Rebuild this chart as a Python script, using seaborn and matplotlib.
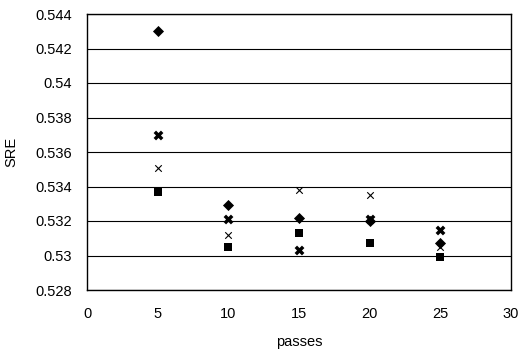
import matplotlib
matplotlib.use("Agg")
import matplotlib.pyplot as plt
import seaborn as sns
import pandas as pd

passes = [5, 10, 15, 20, 25]
series_diamond = [0.5430, 0.5329, 0.5322, 0.5320, 0.5307]
series_square = [0.5337, 0.5305, 0.5313, 0.5307, 0.5299]
series_bowtie = [0.5370, 0.5321, 0.5303, 0.5321, 0.5315]
series_cross = [0.5351, 0.5312, 0.5338, 0.5335, 0.5305]
x_ticks = [0, 5, 10, 15, 20, 25, 30]
y_ticks = [0.528, 0.53, 0.532, 0.534, 0.536, 0.538, 0.54, 0.542, 0.544]
y_tick_labels = ["0.528", "0.53", "0.532", "0.534", "0.536", "0.538", "0.54", "0.542", "0.544"]

names = ["A", "B", "C", "D"]
rows = []
for name, vals in zip(names, [series_diamond, series_square, series_bowtie, series_cross]):
    for p, v in zip(passes, vals):
        rows.append({"passes": p, "SRE": v, "series": name})
df = pd.DataFrame(rows)

sns.set_style("white")
plt.rcParams["font.family"] = ["Liberation Sans", "DejaVu Sans"]
plt.rcParams["text.color"] = "black"
plt.rcParams["axes.labelcolor"] = "black"
plt.rcParams["xtick.color"] = "black"
plt.rcParams["ytick.color"] = "black"

fig = plt.figure(figsize=(5.21, 3.55), dpi=100)
ax = fig.add_axes([87 / 521, 1 - 290 / 355, (511 - 87) / 521, (290 - 14) / 355])

for name, mk, sz, lw in [("A", "D", 32, 0), ("B", "s", 32, 0), ("C", "X", 50, 0), ("D", "x", 22, 0.8)]:
    sub = df[df["series"] == name]
    sns.scatterplot(data=sub, x="passes", y="SRE", marker=mk, s=sz, color="black",
                    linewidth=lw, edgecolor="black" if mk != "x" else None, ax=ax, legend=False, zorder=3)

ax.set_xlim(0, 30)
ax.set_ylim(0.528, 0.544)
ax.set_xticks(x_ticks)
ax.set_xticklabels([str(t) for t in x_ticks])
ax.set_yticks(y_ticks)
ax.set_yticklabels(y_tick_labels)
ax.yaxis.grid(True, color="black", linewidth=0.8)
ax.xaxis.grid(False)
ax.set_axisbelow(True)
for sp in ax.spines.values():
    sp.set_color("black")
    sp.set_linewidth(1.0)
ax.tick_params(axis="x", direction="in", length=4, color="black", labelcolor="black", labelsize=10.5, pad=12)
ax.tick_params(axis="y", direction="out", length=0, labelcolor="black", labelsize=10.5, pad=11)
ax.set_xlabel("passes", fontsize=10.5, labelpad=10, color="black")
ax.set_ylabel("SRE", fontsize=10.5, labelpad=12, color="black")

fig.savefig("out.png", dpi=100)
